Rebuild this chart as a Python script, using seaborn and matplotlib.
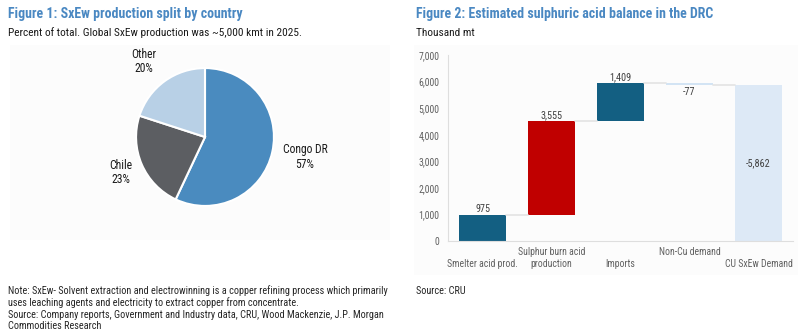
import matplotlib
matplotlib.use("Agg")
import matplotlib.pyplot as plt
from matplotlib.patches import Rectangle
import numpy as np
import pandas as pd
import seaborn as sns

# ---------------- data ----------------
pie_labels = ["Congo DR", "Chile", "Other"]
pie_shares = [57, 23, 20]

wf_categories = ["Smelter acid prod.", "Sulphur burn acid\nproduction", "Imports",
                 "Non-Cu demand", "CU SxEw Demand"]
wf_values = [975, 3555, 1409, -77, -5862]
wf_value_labels = ["975", "3,555", "1,409", "-77", "-5,862"]
y_ticks = [0, 1000, 2000, 3000, 4000, 5000, 6000, 7000]

# ---------------- style ----------------
sns.set_theme(style="white")
FONT = ["Roboto Condensed", "Liberation Sans", "DejaVu Sans"]
plt.rcParams["font.family"] = FONT

BLUE_T = "#4a88c2"
PIE_COLORS = ["#4a8bbf", "#5c5e62", "#b8d0e6"]
WF_COLORS = ["#135f82", "#c00000", "#135f82", "#d3e4f4", "#dde9f6"]
GRAY_TXT = "#606060"

fig = plt.figure(figsize=(7.98, 3.36), dpi=100)
W, H = 798, 336

def fx(px):
    return px / W

def fy(py):
    return 1 - py / H

# faint panel backgrounds
fig.patches.append(Rectangle((fx(10), fy(240)), fx(390) - fx(10), fy(45) - fy(240),
                             transform=fig.transFigure, facecolor="#fcfcfc", edgecolor="none", zorder=-5))
fig.patches.append(Rectangle((fx(414), fy(275)), fx(798) - fx(414), fy(45) - fy(275),
                             transform=fig.transFigure, facecolor="#fcfcfc", edgecolor="none", zorder=-5))

# titles
fig.text(fx(8), fy(14), "Figure 1: SxEw production split by country", color=BLUE_T,
         fontsize=10, fontweight="bold", va="center", ha="left")
fig.text(fx(8), fy(33), "Percent of total. Global SxEw production was ~5,000 kmt in 2025.",
         color="#1a1a1a", fontsize=8.2, va="center", ha="left")
fig.text(fx(416), fy(14), "Figure 2: Estimated sulphuric acid balance in the DRC", color=BLUE_T,
         fontsize=10, fontweight="bold", va="center", ha="left")
fig.text(fx(416), fy(33), "Thousand mt", color="#1a1a1a", fontsize=8.2, va="center", ha="left")

# notes
notes = ("Note: SxEw- Solvent extraction and electrowinning is a copper refining process which primarily\n"
         "uses leaching agents and electricity to extract copper from concentrate.\n"
         "Source: Company reports, Government and Industry data, CRU, Wood Mackenzie, J.P. Morgan\n"
         "Commodities Research")
fig.text(fx(8), fy(285), notes, color="#262626", fontsize=7.4, va="top", ha="left", linespacing=1.17)
fig.text(fx(416), fy(286), "Source: CRU", color="#262626", fontsize=7.4, va="top", ha="left")

# ---------------- pie ----------------
cx, cy, r = 205, 137, 70
ax_pie = fig.add_axes([fx(cx - r), fy(cy + r), (2 * r) / W, (2 * r) / H])
ax_pie.pie(pie_shares, colors=PIE_COLORS, startangle=90, counterclock=False, radius=0.985,
           wedgeprops=dict(edgecolor="white", linewidth=1.5))
ax_pie.set_xlim(-1, 1)
ax_pie.set_ylim(-1, 1)
ax_pie.set_aspect("equal")
ax_pie.axis("off")
label_pos = {"Congo DR": (305, 157), "Chile": (121, 173), "Other": (144, 62)}
for lab, share in zip(pie_labels, pie_shares):
    px, py = label_pos[lab]
    fig.text(fx(px), fy(py), f"{lab}\n{share}%", ha="center", va="center",
             fontsize=8.4, color="#1a1a1a", linespacing=1.1)

# ---------------- waterfall ----------------
ends = np.cumsum(wf_values)
starts = np.concatenate([[0], ends[:-1]])
bottoms = np.minimum(starts, ends)
heights = np.abs(np.array(wf_values))
df = pd.DataFrame({"cat": wf_categories, "height": heights, "bottom": bottoms})

ax = fig.add_axes([fx(448), fy(241), fx(793) - fx(448), fy(55) - fy(241)])
ax.patch.set_alpha(0)
bw = 0.67
sns.barplot(data=df, x="cat", y="height", hue="cat", palette=WF_COLORS, width=bw,
            legend=False, ax=ax, saturation=1, order=wf_categories, hue_order=wf_categories)
for patch in ax.patches:
    xc = patch.get_x() + patch.get_width() / 2
    i = int(round(xc))
    patch.set_y(bottoms[i])
    patch.set_height(heights[i])
    patch.set_edgecolor("none")

# connectors
for i in range(len(wf_values) - 1):
    ax.plot([i + bw / 2, i + 1 - bw / 2], [ends[i], ends[i]], color="#e3e3e3", lw=1.2, zorder=1)

# value labels
for i, (v, lab) in enumerate(zip(wf_values, wf_value_labels)):
    if i == len(wf_values) - 1:
        ax.text(i, (starts[i] + ends[i]) / 2, lab, ha="center", va="center", fontsize=7.3, color="#404040")
    elif v >= 0:
        ax.text(i, ends[i] + 30, lab, ha="center", va="bottom", fontsize=7.3, color="#404040")
    else:
        ax.text(i, ends[i] - 50, lab, ha="center", va="top", fontsize=7.3, color="#404040")

ax.set_xlim(-0.5, len(wf_values) - 0.5)
ax.set_ylim(0, 7000)
ax.set_yticks(y_ticks)
ax.set_yticklabels([f"{t:,}" for t in y_ticks], fontsize=7, color=GRAY_TXT)
ax.set_xticks(range(len(wf_categories)))
tick_text = []
for i, c in enumerate(wf_categories):
    tick_text.append(c if (i % 2 == 1 or "\n" in c) else "\n" + c)
ax.set_xticklabels(tick_text, fontsize=7, color=GRAY_TXT, linespacing=1.3)
ax.set_xlabel("")
ax.set_ylabel("")
ax.tick_params(axis="both", length=0, pad=4)
ax.tick_params(axis="y", pad=6)
for s in ["top", "right"]:
    ax.spines[s].set_visible(False)
for s in ["left", "bottom"]:
    ax.spines[s].set_color("#dedede")
    ax.spines[s].set_linewidth(0.8)

fig.savefig("out.png", dpi=100)
